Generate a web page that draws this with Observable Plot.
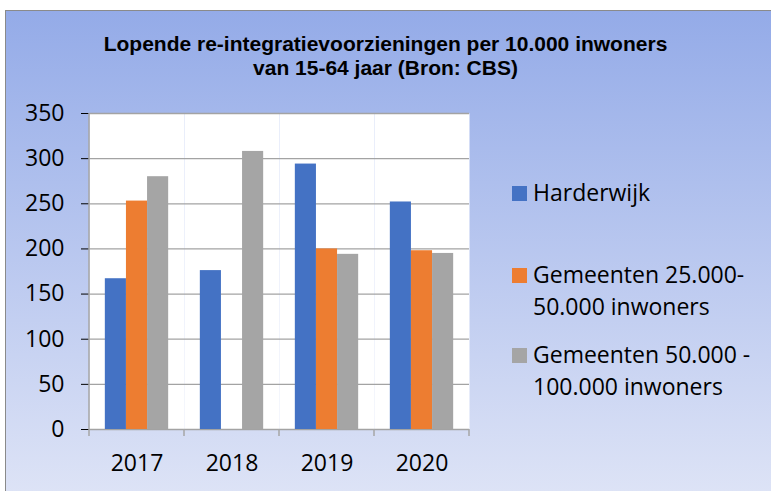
<!DOCTYPE html>
<html>
<head>
<meta charset="utf-8">
<script src="https://cdn.jsdelivr.net/npm/d3@7"></script>
<script src="https://cdn.jsdelivr.net/npm/@observablehq/plot@0.6"></script>
<style>
  html, body { margin: 0; padding: 0; background: #fff; }
  #wrap { position: relative; width: 771px; height: 491px; overflow: hidden; background: #fff; }
  #box { position: absolute; left: 5px; top: 10px; width: 800px; height: 520px;
         border-left: 1px solid #8a8a8a; border-top: 1px solid #8a8a8a;
         background: linear-gradient(to bottom, #94abe8 0px, #dde3f6 481px); }
  #title { position: absolute; left: 0; top: 32px; width: 771px; text-align: center;
           font-family: "Liberation Sans", Arial, sans-serif; font-weight: bold;
           font-size: 21px; line-height: 23.5px; color: #000; }
  #chart { position: absolute; left: 0; top: 0; }
  #legend { position: absolute; left: 0; top: 0; font-family: "Open Sans", sans-serif;
            font-size: 23px; line-height: 32px; color: #000; }
  .item { position: absolute; left: 533px; width: 235px; }
  .sw { position: absolute; left: -21px; top: 10px; width: 15px; height: 15px; }
  [aria-label="y-axis tick"], [aria-label="y-axis"] .tick line { stroke: #a6a6a6; }
</style>
</head>
<body>
<div id="wrap">
  <div id="box"></div>
  <div id="title"></div>
  <div id="chart"></div>
  <div id="legend"></div>
</div>
<script>
// ---- data ----
const titleLines = ["Lopende re-integratievoorzieningen per 10.000 inwoners", "van 15-64 jaar (Bron: CBS)"];
const years = ["2017", "2018", "2019", "2020"];
const seriesNames = ["Harderwijk", "Gemeenten 25.000-50.000 inwoners", "Gemeenten 50.000 - 100.000 inwoners"];
const harderwijk = [167, 176, 294, 252];
const gemeenten25 = [253, null, 200, 198];
const gemeenten50 = [280, 308, 194, 195];
const seriesColors = ["#4472c4", "#ed7d31", "#a5a5a5"];
const yTicks = [0, 50, 100, 150, 200, 250, 300, 350];

const seriesValues = [harderwijk, gemeenten25, gemeenten50];
const rows = [];
years.forEach((year, i) => {
  seriesNames.forEach((s, j) => {
    rows.push({year, series: s, value: seriesValues[j][i]});
  });
});

document.getElementById("title").innerHTML = titleLines.join("<br>");

const plot = Plot.plot({
  width: 771,
  height: 491,
  marginLeft: 89,
  marginRight: 302,
  marginTop: 113,
  marginBottom: 62,
  style: {background: "transparent", fontFamily: "Open Sans, sans-serif", fontSize: "23px", color: "#000", overflow: "visible"},
  facet: {data: rows, x: "year"},
  fx: {domain: years, padding: 0, round: false, label: null, tickSize: 0, tickPadding: 25, axis: "bottom"},
  x: {domain: seriesNames, paddingInner: 0, paddingOuter: 0.75, round: false, axis: null},
  y: {domain: [0, 350], ticks: yTicks, tickSize: 8, tickPadding: 17, label: null},
  color: {domain: seriesNames, range: seriesColors},
  marks: [
    Plot.frame({fill: "#fff", stroke: "none"}),
    Plot.ruleY(yTicks, {stroke: "#a3a3a3", strokeWidth: 1.3}),
    Plot.barY(rows, {x: "series", y: "value", fill: "series"})
  ]
});
document.getElementById("chart").appendChild(plot);

// category boundary ticks & left axis line, placed with the plot's own scales
const fxD = plot.scale("fx");
const yD = plot.scale("y");
const fx = d3.scaleBand(fxD.domain, fxD.range)
  .paddingInner(fxD.paddingInner ?? fxD.padding ?? 0)
  .paddingOuter(fxD.paddingOuter ?? fxD.padding ?? 0)
  .align(fxD.align ?? 0.5);
const ys = d3.scaleLinear(yD.domain, yD.range);
const bounds = years.map(y => fx(y)).concat([fx(years[years.length - 1]) + fx.bandwidth()]);
const g = d3.select(plot).append("g").attr("stroke", "#a6a6a6").attr("stroke-width", 1.5);
g.append("line").attr("x1", bounds[0]).attr("x2", bounds[0]).attr("y1", ys(350)).attr("y2", ys(0));
g.selectAll(".bt").data(bounds).join("line")
  .attr("x1", d => d).attr("x2", d => d).attr("y1", ys(0)).attr("y2", ys(0) + 7);

// legend
const tops = [175.5, 257.5, 337.5];
const legend = d3.select("#legend");
seriesNames.forEach((s, i) => {
  const it = legend.append("div").attr("class", "item").style("top", tops[i] + "px").text(s);
  it.append("div").attr("class", "sw").style("background", seriesColors[i]);
});
</script>
</body>
</html>
